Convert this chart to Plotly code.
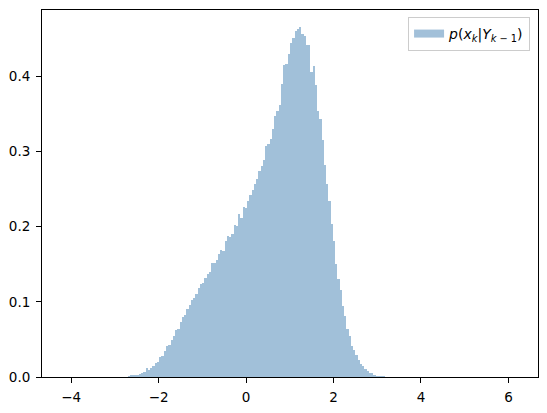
import numpy as np
import plotly.graph_objects as go

# Histogram definition (density=True, 200 bins)
hist_min = -4.15
hist_max = 6.16
n_bins = 200
first_nonzero_bin = 28

# Densities for bins 28..141 (others ~0)
density = [
    0.0012, 0.0015, 0.0018, 0.0022, 0.0030, 0.0044, 0.0050, 0.0070, 0.0120, 0.0095,
    0.0120, 0.0145, 0.0185, 0.0205, 0.0265, 0.0280, 0.0350, 0.0410, 0.0425, 0.0490,
    0.0550, 0.0625, 0.0640, 0.0735, 0.0800, 0.0830, 0.0900, 0.0955, 0.1030, 0.1050,
    0.1100, 0.1180, 0.1230, 0.1250, 0.1310, 0.1370, 0.1400, 0.1520, 0.1520, 0.1560,
    0.1640, 0.1690, 0.1680, 0.1810, 0.1875, 0.1860, 0.1900, 0.2020, 0.2010, 0.2165,
    0.2115, 0.2257, 0.2245, 0.2337, 0.2425, 0.2485, 0.2560, 0.2627, 0.2735, 0.2800,
    0.2890, 0.3065, 0.3100, 0.3170, 0.3300, 0.3470, 0.3540, 0.3620, 0.3890, 0.4145,
    0.4160, 0.4300, 0.4436, 0.4510, 0.4594, 0.4630, 0.4647, 0.4554, 0.4540, 0.4410,
    0.4410, 0.4050, 0.4130, 0.3880, 0.3540, 0.3430, 0.3155, 0.2825, 0.2560, 0.2337,
    0.2033, 0.1810, 0.1505, 0.1307, 0.1160, 0.0950, 0.0805, 0.0634, 0.0540, 0.0410,
    0.0356, 0.0290, 0.0224, 0.0170, 0.0140, 0.0106, 0.0080, 0.0055, 0.0050, 0.0026,
    0.0013, 0.0010, 0.0008, 0.0006,
]

x_ticks = [-4, -2, 0, 2, 4, 6]
y_ticks = [0.0, 0.1, 0.2, 0.3, 0.4]
legend_label = "<i>p</i>(<i>x</i><sub><i>k</i></sub>|<i>Y</i><sub><i>k</i> − 1</sub>)"

edges = np.linspace(hist_min, hist_max, n_bins + 1)
width = edges[1] - edges[0]
idx = np.arange(first_nonzero_bin, first_nonzero_bin + len(density))
centers = (edges[idx] + edges[idx + 1]) / 2

data_span = hist_max - hist_min
x_range = [hist_min - 0.05 * data_span, hist_max + 0.05 * data_span]
y_range = [0, 1.05 * max(density)]

font = dict(family="DejaVu Sans", size=13.5, color="black")

fig = go.Figure()
fig.add_trace(go.Bar(
    x=centers, y=density, width=width,
    marker=dict(color="steelblue", line=dict(width=0)),
    opacity=0.5, showlegend=False, hoverinfo="skip",
))
fig.add_trace(go.Scatter(
    x=[None], y=[None], mode="lines",
    line=dict(color="rgba(70,130,180,0.5)", width=8),
    name=legend_label, showlegend=True,
))

axis_common = dict(
    showline=True, linecolor="black", linewidth=1, mirror=True,
    ticks="outside", ticklen=5, tickwidth=1, tickcolor="black",
    showgrid=False, zeroline=False, tickfont=font,
)
fig.update_xaxes(range=x_range, tickvals=x_ticks, ticklabelstandoff=3, **axis_common)
fig.update_yaxes(range=y_range, tickvals=y_ticks, tickformat=".1f",
                 ticklabelstandoff=3, **axis_common)

fig.update_layout(
    width=547, height=413,
    margin=dict(l=42, r=8, t=10, b=34),
    paper_bgcolor="white", plot_bgcolor="white",
    bargap=0, font=font,
    legend=dict(
        x=0.984, y=0.981, xanchor="right", yanchor="top",
        bgcolor="rgba(255,255,255,0.8)", bordercolor="#cccccc", borderwidth=1,
        font=dict(family="DejaVu Sans", size=14, color="black"),
    ),
)

fig.write_html("out.html", config={"displayModeBar": False},
               post_script="document.body.style.margin='0';")
